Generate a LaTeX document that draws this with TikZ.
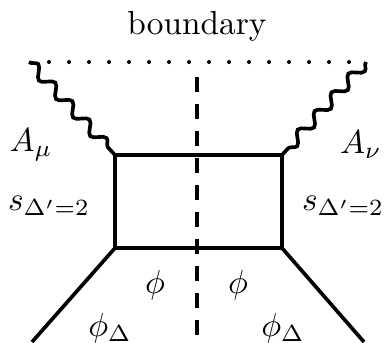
\documentclass[tikz,border=0pt]{standalone}
\usetikzlibrary{decorations.pathmorphing}
\begin{document}
\begin{tikzpicture}[x=0.3pt,y=-0.3pt,
  solidline/.style={line width=1.1pt},
  photon/.style={line width=1.1pt,decorate,decoration={snake,segment length=7.55pt,amplitude=1.6pt}},
  cutline/.style={line width=1.1pt,dash pattern=on 4.5pt off 3.6pt},
  bdry/.style={line width=1.2pt,line cap=round,dash pattern=on 0pt off 6pt},
  lbl/.style={inner sep=0pt}]
\useasboundingbox (0,0) rectangle (386,342);
\coordinate (bl) at (29,62);
\coordinate (br) at (366,62);
\coordinate (d1) at (49,62);
\coordinate (d2) at (350,62);
\coordinate (tl) at (115,155);
\coordinate (tr) at (282,155);
\coordinate (ll) at (115,248);
\coordinate (lr) at (282,248);
\coordinate (el) at (32,342);
\coordinate (er) at (364,342);
\coordinate (ct) at (197,77);
\coordinate (cb) at (197,342);
\node[lbl] (bd) at (197,26) {boundary};
\draw[bdry] (d1) -- (d2);
\draw[photon] (bl) -- (tl);
\draw[photon] (br) -- (tr);
\draw[solidline] (tl) -- (tr) -- (lr) -- (ll) -- cycle;
\draw[solidline] (ll) -- (el);
\draw[solidline] (lr) -- (er);
\draw[cutline] (ct) -- (cb);
\node[lbl] (am) at (31,145) {$A_\mu$};
\node[lbl] (an) at (361,145) {$A_\nu$};
\node[lbl] (sl) at (49,206) {$s_{\Delta'=2}$};
\node[lbl] (sr) at (343,206) {$s_{\Delta'=2}$};
\node[lbl] (p1) at (155,285) {$\phi$};
\node[lbl] (p2) at (238,285) {$\phi$};
\node[lbl] (p3) at (110,328) {$\phi_\Delta$};
\node[lbl] (p4) at (283,328) {$\phi_\Delta$};
\end{tikzpicture}
\end{document}
